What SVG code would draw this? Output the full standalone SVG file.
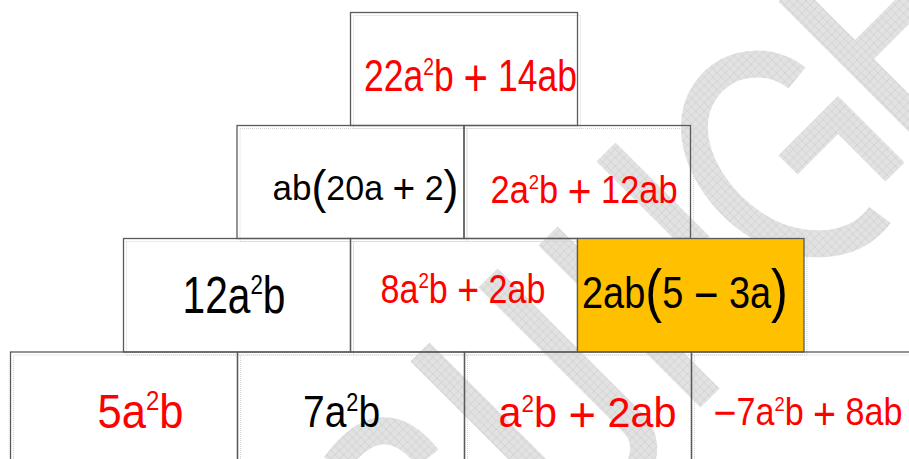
<svg xmlns="http://www.w3.org/2000/svg" width="909" height="459" viewBox="0 0 909 459">
<defs>
<pattern id="hatch" width="6" height="6" patternUnits="userSpaceOnUse" patternTransform="rotate(45)">
<rect width="6" height="6" fill="#e2e2e2"/>
<path d="M0,0H6M0,0V6" stroke="#c6c6c6" stroke-width="0.8"/>
</pattern>
<style>
.t{font-family:"Liberation Sans",Arial,sans-serif;}
.r{fill:#ff0000;}
.k{fill:#000000;}
.box{fill:none;stroke:#5a5a5a;stroke-width:1.3;}
.yel{fill:#ffc000;stroke:#5a5a5a;stroke-width:1.3;}
.sh{fill:none;stroke:#d4d4d4;stroke-width:1;stroke-dasharray:1 1;}
.wm{fill:none;stroke:url(#hatch);stroke-width:27;stroke-linecap:butt;stroke-linejoin:miter;}
</style>
</defs>
<rect x="0" y="0" width="909" height="459" fill="#ffffff"/>
<g id="watermark">
<path class="wm" d="M548,236 L710,398"/>
<path class="wm" d="M488,278 L632,422 Q652,442 638,470"/>
<path class="wm" d="M420,352 L545,477"/>
<path class="wm" d="M335,465 Q382,400 428,458"/>
<path class="wm" d="M788,-8 L925,129"/>
<path class="wm" d="M918,-4 L858,56"/>
<path class="wm" d="M606,152 L700,246"/>
<path class="wm" d="M797,78 C765,52 712,62 697,108 C684,155 722,208 768,232 C795,246 850,255 880,215"/>
<path class="wm" d="M788,165 L838,115 L895,172"/>
</g>
<g id="shadows">
<rect class="sh" x="353.5" y="15.5" width="227" height="113"/>
<rect class="sh" x="240" y="128.5" width="227" height="113"/>
<rect class="sh" x="467" y="128.5" width="226.5" height="113"/>
<rect class="sh" x="126.5" y="241.5" width="227" height="113.5"/>
<rect class="sh" x="353.5" y="241.5" width="227" height="113.5"/>
<rect class="sh" x="580.5" y="241.5" width="226.5" height="113.5"/>
<rect class="sh" x="13.5" y="355" width="227" height="110"/>
<rect class="sh" x="240.5" y="355" width="227" height="110"/>
<rect class="sh" x="467.5" y="355" width="227" height="110"/>
<rect class="sh" x="694.5" y="355" width="227" height="110"/>
</g>
<g id="n1">
<rect class="box" x="350.5" y="12.5" width="227" height="113"/>
<text class="t r" transform="translate(364,91) scale(0.807,1)" font-size="44">22a<tspan font-size="24" dy="-16">2</tspan><tspan dy="16">b </tspan><tspan font-size="52" dy="5">+</tspan><tspan dy="-5"> 14ab</tspan></text>
</g>
<g id="n2">
<rect class="box" x="237" y="125.5" width="227" height="113"/>
<text class="t k" transform="translate(272.5,200) scale(0.972,1)" font-size="35"><tspan font-size="36">ab</tspan><tspan font-size="46" dy="3">(</tspan><tspan dy="-3">20a </tspan><tspan font-size="40" dy="3">+</tspan><tspan dy="-3"> 2</tspan><tspan font-size="46" dy="3">)</tspan></text>
</g>
<g id="n3">
<rect class="box" x="464" y="125.5" width="226.5" height="113"/>
<text class="t r" transform="translate(490.5,203) scale(0.882,1)" font-size="39">2a<tspan font-size="21" dy="-14">2</tspan><tspan dy="14">b </tspan><tspan font-size="46" dy="4">+</tspan><tspan dy="-4"> 12ab</tspan></text>
</g>
<g id="n4">
<rect class="box" x="123.5" y="238.5" width="227" height="113.5"/>
<text class="t k" transform="translate(182.5,313) scale(0.798,1)" font-size="51">12a<tspan font-size="28" dy="-19">2</tspan><tspan dy="19">b</tspan></text>
</g>
<g id="n5">
<rect class="box" x="350.5" y="238.5" width="227" height="113.5"/>
<text class="t r" transform="translate(380.5,303) scale(0.852,1)" font-size="40">8a<tspan font-size="22" dy="-15">2</tspan><tspan dy="15">b </tspan><tspan font-size="44" dy="2">+</tspan><tspan dy="-2"> 2ab</tspan></text>
</g>
<g id="n6">
<rect class="yel" x="577.5" y="238.5" width="226.5" height="113.5"/>
<text class="t k" transform="translate(582,308) scale(0.843,1)" font-size="45">2ab<tspan font-size="60" dy="3">(</tspan><tspan dy="-3">5 </tspan><tspan font-size="50" dy="4">−</tspan><tspan dy="-4"> 3a</tspan><tspan font-size="60" dy="3">)</tspan></text>
</g>
<g id="n7">
<rect class="box" x="10.5" y="352" width="227" height="110"/>
<text class="t r" transform="translate(97.5,428) scale(0.889,1)" font-size="49">5a<tspan font-size="27" dy="-18">2</tspan><tspan dy="18">b</tspan></text>
</g>
<g id="n8">
<rect class="box" x="237.5" y="352" width="227" height="110"/>
<text class="t k" transform="translate(303,427) scale(0.866,1)" font-size="45">7a<tspan font-size="25" dy="-16">2</tspan><tspan dy="16">b</tspan></text>
</g>
<g id="n9">
<rect class="box" x="464.5" y="352" width="227" height="110"/>
<text class="t r" transform="translate(498.5,427) scale(0.984,1)" font-size="42">a<tspan font-size="23" dy="-15">2</tspan><tspan dy="15">b </tspan><tspan font-size="48" dy="4">+</tspan><tspan dy="-4"> 2ab</tspan></text>
</g>
<g id="n10">
<rect class="box" x="691.5" y="352" width="227" height="110"/>
<text class="t r" transform="translate(713.5,425) scale(0.875,1)" font-size="39"><tspan font-size="45" dy="3">−</tspan><tspan dy="-3">7a</tspan><tspan font-size="21" dy="-14">2</tspan><tspan dy="14">b </tspan><tspan font-size="45" dy="4">+</tspan><tspan dy="-4"> 8ab</tspan></text>
</g>
</svg>
